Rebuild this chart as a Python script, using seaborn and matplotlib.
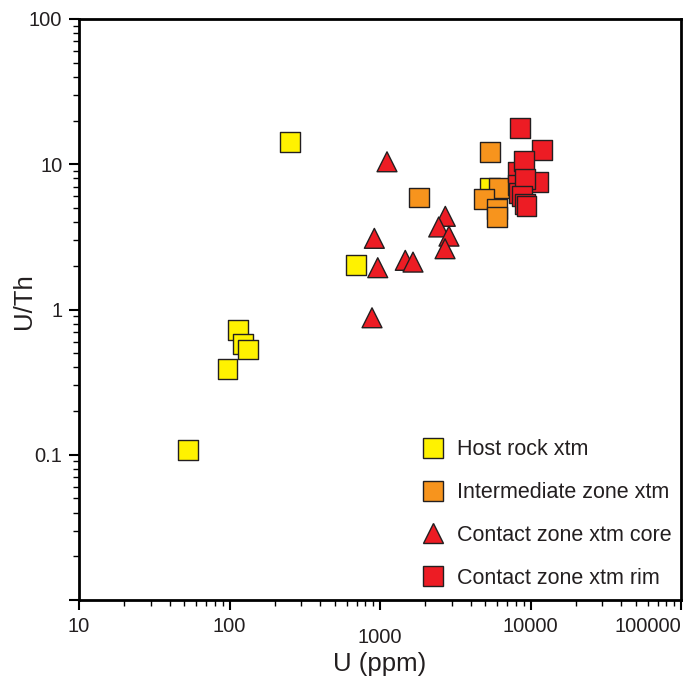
import numpy as np
import pandas as pd
import matplotlib
matplotlib.use("Agg")
import matplotlib.pyplot as plt
import matplotlib.ticker as mticker
import seaborn as sns

# --- data ---
host_u = [252, 114, 123, 132, 97, 53, 690, 5400]
host_uth = [14.2, 0.72, 0.58, 0.53, 0.39, 0.108, 2.02, 6.9]

inter_u = [5400, 6200, 4930, 5960, 5960, 1825]
inter_uth = [12.1, 6.9, 5.8, 4.95, 4.36, 5.9]

core_u = [1113, 2716, 2455, 2873, 2705, 917, 966, 1472, 1657, 885]
core_uth = [10.4, 4.38, 3.7, 3.2, 2.62, 3.09, 1.94, 2.18, 2.12, 0.877]

rim_u = [8300, 8300, 8400, 8480, 11980, 9010, 11270, 9240, 8740, 9200, 9400]
rim_uth = [8.9, 7.2, 6.3, 17.8, 12.6, 10.5, 7.6, 7.97, 6.04, 5.35, 5.15]

groups = ["Host rock xtm", "Intermediate zone xtm",
          "Contact zone xtm core", "Contact zone xtm rim"]
colors = ["#FFF200", "#F7941D", "#ED1C24", "#ED1C24"]
markers = ["s", "s", "^", "s"]

df = pd.concat([
    pd.DataFrame({"U": host_u, "UTh": host_uth, "group": groups[0]}),
    pd.DataFrame({"U": inter_u, "UTh": inter_uth, "group": groups[1]}),
    pd.DataFrame({"U": core_u, "UTh": core_uth, "group": groups[2]}),
    pd.DataFrame({"U": rim_u, "UTh": rim_uth, "group": groups[3]}),
], ignore_index=True)

sns.set_style("ticks")
plt.rcParams["font.family"] = ["Liberation Sans", "DejaVu Sans"]

fig = plt.figure(figsize=(6.93, 6.82), dpi=100)
ax = fig.add_axes([79 / 693, 1 - 600 / 682, 602 / 693, 581 / 682])

sns.scatterplot(
    data=df, x="U", y="UTh", hue="group", style="group",
    hue_order=groups, style_order=groups,
    palette=dict(zip(groups, colors)),
    markers=dict(zip(groups, markers)),
    s=205, edgecolor="#231F20", linewidth=1, alpha=1,
    ax=ax, legend=False, zorder=3,
)

ax.set_xscale("log")
ax.set_yscale("log")
ax.set_xlim(10, 100000)
ax.set_ylim(0.01, 100)

ax.xaxis.set_major_locator(mticker.FixedLocator([10, 100, 1000, 10000, 100000]))
ax.xaxis.set_major_formatter(mticker.FixedFormatter(["10", "100", "1000", "10000", "100000"]))
ax.yaxis.set_major_locator(mticker.FixedLocator([0.01, 0.1, 1, 10, 100]))
ax.yaxis.set_major_formatter(mticker.FixedFormatter(["", "0.1", "1", "10", "100"]))
ax.xaxis.set_minor_locator(mticker.LogLocator(base=10, subs=np.arange(2, 10)))
ax.yaxis.set_minor_locator(mticker.LogLocator(base=10, subs=np.arange(2, 10)))
ax.xaxis.set_minor_formatter(mticker.NullFormatter())
ax.yaxis.set_minor_formatter(mticker.NullFormatter())

ax.tick_params(which="major", direction="out", length=7, width=1.5,
               labelsize=14.5, color="black", labelcolor="#231F20", pad=5)
ax.tick_params(which="minor", direction="out", length=4, width=1, color="black")
for sp in ax.spines.values():
    sp.set_linewidth(2)
    sp.set_color("black")
    sp.set_visible(True)

# quirks of the original tick labels
xticks = ax.xaxis.get_major_ticks()
xticks[2].set_pad(13)
xticks[4].label1.set_horizontalalignment("right")

ax.set_xlabel("U (ppm)", fontsize=18.5, color="#231F20", labelpad=4)
ax.set_ylabel("U/Th", fontsize=18.5, color="#231F20")
ax.yaxis.set_label_coords(-0.072, 0.515)

# legend
handles = [
    plt.Line2D([], [], linestyle="none", marker=m, markersize=15,
               markerfacecolor=c, markeredgecolor="#231F20", markeredgewidth=1)
    for m, c in zip(markers, colors)
]
ax.legend(handles, groups, loc="lower left", bbox_to_anchor=(0.565, 0.019),
          borderaxespad=0, borderpad=0, frameon=False, fontsize=15.5,
          labelspacing=1.02, handletextpad=0.45, handlelength=1.3,
          labelcolor="#231F20")

fig.savefig("out.png", dpi=100)
